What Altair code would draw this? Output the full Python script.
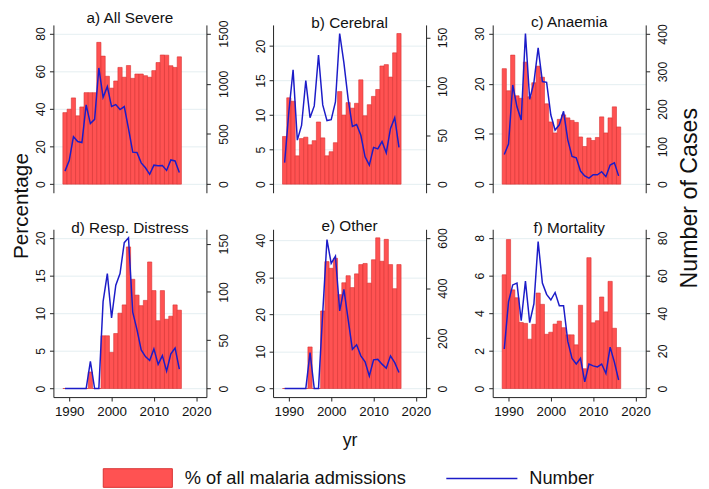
import altair as alt
import pandas as pd

years = list(range(1989, 2017))

titles = ["a) All Severe", "b) Cerebral", "c) Anaemia",
          "d) Resp. Distress", "e) Other", "f) Mortality"]

pct_severe = [38, 39.8, 45.8, 36.3, 41, 48.6, 48.6, 48.6, 75.3, 68, 57.3, 51, 54.8, 62,
              56.8, 63, 56.2, 58.5, 58.5, 57.6, 56.8, 60.3, 64.6, 68.6, 68.5, 62.9, 62, 67.6]
num_severe = [130, 235, 473, 424, 414, 789, 603, 645, 1157, 864, 971, 773, 792, 743,
              773, 554, 319, 316, 212, 163, 98, 189, 183, 186, 137, 241, 231, 117]

pct_cerebral = [6.9, 12.5, 12.0, 4.1, 6.6, 6.8, 5.7, 6.3, 9.0, 6.7, 4.1, 4.7, 6.0, 13.4,
                10.0, 11.8, 11.0, 11.7, 15.1, 9.9, 11.5, 12.7, 13.7, 17.1, 17.3, 15.5, 19.0, 21.8]
num_cerebral = [22, 74, 117, 45, 60, 106, 68, 80, 132, 81, 65, 66, 84, 154,
                124, 87, 59, 61, 50, 28, 19.5, 37.6, 36, 43.6, 32, 57, 68, 37.6]

pct_anaemia = [23, 18.6, 25.7, 17.6, 17.1, 24.3, 17.4, 20.2, 23.5, 21.3, 16.0, 12.4, 10.2, 12.9,
               13.8, 13.2, 12.7, 12.3, 9.4, 7.5, 9.2, 8.7, 9.3, 13.4, 10.2, 13.2, 15.4, 11.4]
num_anaemia = [79, 107, 264, 206, 171, 401, 226, 271, 363, 273, 271, 184, 144, 158,
               194, 118, 74, 70, 35, 22, 16, 25, 25, 33, 20, 51, 57, 22]

pct_resp = [0, 0, 0, 0, 0, 0, 2.2, 0, 0, 7.0, 7.0, 4.8, 7.3, 10.0,
            11.1, 18.8, 14.5, 12.4, 11.0, 11.7, 16.8, 13.0, 9.0, 13.0, 9.2, 9.6, 11.1, 10.4]
num_resp = [0, 0, 0, 0, 0, 0, 28, 0, 0, 90, 119, 73, 107, 119,
            151, 156, 79, 61, 40, 33, 29, 41, 25, 34, 18, 36, 42, 20]

pct_other = [0, 0, 0, 0, 0, 0, 11.2, 0, 0, 20.9, 34.2, 32.4, 35.1, 25.3,
             28.5, 30.4, 27.2, 30.9, 33.4, 33.7, 28.4, 34.7, 40.6, 34.3, 40.2, 33.4, 26.9, 33.4]
num_other = [0, 0, 0, 0, 0, 0, 143, 0, 0, 302, 593, 498, 527, 309,
             395, 275, 156, 174, 130, 106, 50, 114, 116, 97, 81, 130, 103, 64]

pct_mort = [6.04, 7.91, 5.24, 4.82, 3.51, 3.46, 2.62, 3.41, 5.07, 4.47, 2.88, 2.99, 3.42, 3.58,
            3.23, 2.85, 2.85, 2.32, 4.42, 1.05, 6.95, 3.49, 3.6, 4.86, 4.07, 5.69, 3.2, 2.18]
num_mort = [21, 46, 55, 56, 36, 57, 35, 45, 78, 56, 50, 47, 51, 44,
            44, 25, 16, 13, 16, 3.5, 13, 12, 11.5, 13, 8, 22, 14, 4.5]

left_ticks = [[0, 20, 40, 60, 80], [0, 5, 10, 15, 20], [0, 10, 20, 30],
              [0, 5, 10, 15, 20], [0, 10, 20, 30, 40], [0, 2, 4, 6, 8]]
right_ticks = [[0, 500, 1000, 1500], [0, 50, 100, 150], [0, 100, 200, 300, 400],
               [0, 50, 100, 150], [0, 200, 400, 600], [0, 20, 40, 60, 80]]
x_ticks = [1990, 2000, 2010, 2020]

pcts = [pct_severe, pct_cerebral, pct_anaemia, pct_resp, pct_other, pct_mort]
nums = [num_severe, num_cerebral, num_anaemia, num_resp, num_other, num_mort]

FONT = "Liberation Sans"
RED = "#ff5252"
RED_EDGE = "#d83232"
BLUE = "#1c1cc8"
BAR_LABEL = "% of all malaria admissions"
LINE_LABEL = "Number"
PAD = 0.057
W, H = 155, 170

fill_legend = alt.Legend(
    orient="none", legendX=50, legendY=423.5, title=None,
    symbolType="M-1,-0.27L1,-0.27L1,0.27L-1,0.27Z", symbolSize=4900,
    symbolStrokeColor=RED_EDGE, symbolStrokeWidth=1, symbolOpacity=1,
    labelFontSize=18.5, labelFont=FONT, labelOffset=12, labelColor="#111",
    labelLimit=400, padding=0)
stroke_legend = alt.Legend(
    orient="none", legendX=397, legendY=422.5, title=None,
    symbolType="stroke", symbolSize=5184, symbolStrokeWidth=1.6,
    labelFontSize=18.5, labelFont=FONT, labelOffset=11, labelColor="#111",
    labelLimit=200, padding=0)


def panel(i):
    pct, num = pcts[i], nums[i]
    lt, rt = left_ticks[i], right_ticks[i]
    df = pd.DataFrame({"yr": years, "pct": pct, "num": num})
    mL = max(max(lt), max(pct))
    mR = max(max(rt), max(num))
    bottom = i >= 3
    xscale = alt.Scale(domain=[1986.27, 2022.4], nice=False, zero=False)
    if bottom:
        xaxis = alt.Axis(values=x_ticks, format="d", grid=False, tickSize=4,
                         labelFontSize=13.5, labelPadding=4, domainColor="#222",
                         tickColor="#222", labelColor="#111",
                         title="yr" if i == 4 else None, titleFontSize=18,
                         titleFontWeight="normal", titlePadding=14, titleColor="#111")
    else:
        xaxis = None
    left_axis = alt.Axis(values=lt, orient="left", format="d", labelAngle=270,
                         labelAlign="center", labelBaseline="bottom", labelFontSize=12.5,
                         labelPadding=2, tickSize=4, domainColor="#222", tickColor="#222",
                         labelColor="#111", grid=True, gridColor="#e4eef1",
                         title="Percentage" if i == 0 else None,
                         titleFontSize=21, titleFontWeight="normal", titleColor="#111",
                         titleAngle=270, titleBaseline="middle", titleAlign="center",
                         titleX=-32, titleY=183)
    right_axis = alt.Axis(values=rt, orient="right", format="d", labelAngle=270,
                          labelAlign="center", labelBaseline="top", labelFontSize=12.5,
                          labelPadding=7, tickSize=4, domainColor="#222", tickColor="#222",
                          labelColor="#111", grid=False,
                          title="Number of Cases" if i == 2 else None,
                          titleFontSize=23.5, titleFontWeight="normal", titleColor="#111",
                          titleAngle=270, titleBaseline="middle", titleAlign="center",
                          titleX=44, titleY=175)
    base = alt.Chart(df).transform_calculate(
        x0="datum.yr - 0.5", x1="datum.yr + 0.5",
        s1="'" + BAR_LABEL + "'", s2="'" + LINE_LABEL + "'")
    bars = base.mark_bar(stroke=RED_EDGE, strokeWidth=0.6).encode(
        x=alt.X("x0:Q", scale=xscale, axis=xaxis),
        x2="x1:Q",
        y=alt.Y("pct:Q", scale=alt.Scale(domain=[-PAD * mL, (1 + PAD) * mL], nice=False, zero=False),
                axis=left_axis),
        y2=alt.Y2(datum=0),
        fill=alt.Fill("s1:N", scale=alt.Scale(domain=[BAR_LABEL], range=[RED]), legend=fill_legend),
    )
    line = base.mark_line(strokeWidth=1.5).encode(
        x=alt.X("yr:Q", scale=xscale, axis=xaxis),
        y=alt.Y("num:Q", scale=alt.Scale(domain=[-PAD * mR, (1 + PAD) * mR], nice=False, zero=False),
                axis=right_axis),
        stroke=alt.Stroke("s2:N", scale=alt.Scale(domain=[LINE_LABEL], range=[BLUE]), legend=stroke_legend),
    )
    return alt.layer(bars, line).resolve_scale(y="independent").properties(
        width=W, height=H,
        title=alt.TitleParams(titles[i], fontSize=15.5, font=FONT, fontWeight="normal",
                              offset=-7, anchor="middle", color="#111", frame="group"))


chart = alt.ConcatChart(
    concat=[panel(i) for i in range(6)], columns=3, bounds="flush",
    spacing=alt.RowColnumber(row=37, column=67.5),
).properties(padding={"left": 3, "top": 0, "right": 0, "bottom": 0}).configure(
    font=FONT).configure_view(stroke=None).configure_axis(
    labelFlush=False, labelOverlap=False, labelFont=FONT, titleFont=FONT)

chart.save("out.html", embed_options={"renderer": "svg", "actions": False})
